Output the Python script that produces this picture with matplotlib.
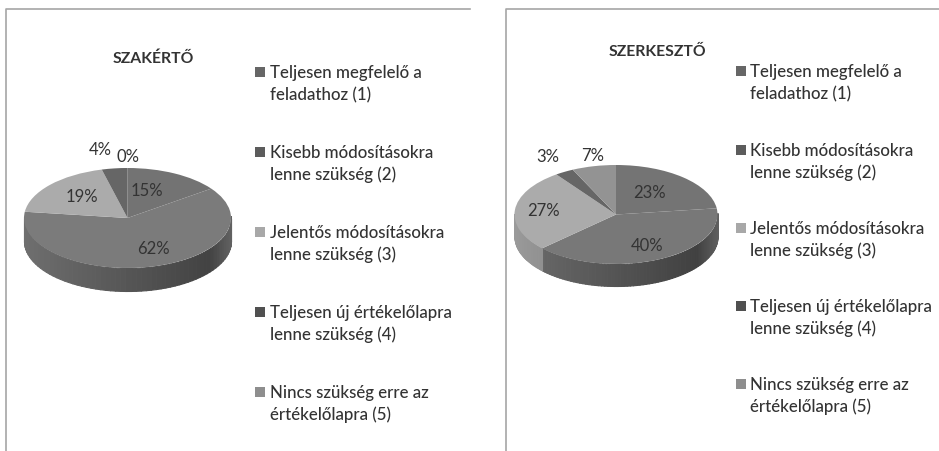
import numpy as np
import matplotlib
matplotlib.use("Agg")
import matplotlib.pyplot as plt
from matplotlib.transforms import Affine2D
from matplotlib.patches import Rectangle

plt.rcParams["font.family"] = ["Lato", "DejaVu Sans"]

W, H = 939, 452

legend_labels = [
    ["Teljesen megfelelő a", "feladathoz (1)"],
    ["Kisebb módosításokra", "lenne szükség (2)"],
    ["Jelentős módosításokra", "lenne szükség (3)"],
    ["Teljesen új értékelőlapra", "lenne szükség (4)"],
    ["Nincs szükség erre az", "értékelőlapra (5)"],
]
legend_colors = ["#666666", "#5c5c5c", "#a8a8a8", "#505050", "#8e8e8e"]

titles = ["SZAKÉRTŐ", "SZERKESZTŐ"]
szakerto = [15, 62, 19, 4, 0]
szerkeszto = [23, 40, 27, 3, 7]
top_colors_l = ["#737373", "#7b7b7b", "#ababab", "#666666", "#8e8e8e"]
top_colors_r = ["#747474", "#787878", "#ababab", "#666666", "#939393"]

# label centres in image pixels
label_pos_l = [(147, 191), (153, 249), (82, 197), (100, 150), (128, 157)]
label_pos_r = [(650, 193), (647, 246), (543, 211), (548, 157), (593, 156)]

TEXT = "#333333"


def py(y):
    return H - y


def draw_pie(ax, values, colors, cx, cy, rx, ry, depth, labels_at):
    # side of the disc first, so the top covers its edge
    cum = np.cumsum([0] + values) / 100.0
    for i, v in enumerate(values):
        if v == 0:
            continue
        a0 = np.pi / 2 - 2 * np.pi * cum[i]
        a1 = np.pi / 2 - 2 * np.pi * cum[i + 1]
        th = np.linspace(a0, a1, 80)
        base = matplotlib.colors.to_rgb(colors[i])[0]
        for t0, t1 in zip(th[:-1], th[1:]):
            if np.sin(t0) > 0 and np.sin(t1) > 0:
                continue
            xs = cx + rx * np.cos([t0, t1])
            ys = py(cy) + ry * np.sin([t0, t1])
            u = (np.cos(t0) + 1) / 2
            shade = 0.9 - 0.4 * u
            if u > 0.9:
                shade += (u - 0.9) * 3.0
            g = min(base * shade, 1)
            ax.fill_between(xs, ys - depth, ys, color=(g, g, g), lw=0.8,
                            antialiased=False)

    wedges, _ = ax.pie(values, colors=colors, startangle=90, counterclock=False,
                       radius=rx, center=(0, 0))
    tr = Affine2D().scale(1, ry / rx).translate(cx, py(cy)) + ax.transData
    for w in wedges:
        w.set_transform(tr)
        w.set_clip_on(False)
        w.set_zorder(3)

    for v, (x, y) in zip(values, labels_at):
        ax.text(x, py(y), f"{v}%", ha="center", va="center", fontsize=12,
                color=TEXT, zorder=4)


def draw_legend(ax, x_box, x_text, y_rows):
    for lines, c, y in zip(legend_labels, legend_colors, y_rows):
        ax.add_patch(Rectangle((x_box, py(y + 5)), 10, 10, fc=c, ec="none"))
        ax.text(x_text, py(y), lines[0], ha="left", va="center", fontsize=12.2,
                color=TEXT, fontweight="medium")
        ax.text(x_text, py(y + 22), lines[1], ha="left", va="center", fontsize=12.2,
                color=TEXT, fontweight="medium")


fig = plt.figure(figsize=(W / 100, H / 100), dpi=100)
ax = fig.add_axes([0, 0, 1, 1])

draw_pie(ax, szakerto, top_colors_l, 127.5, 219, 103.5, 50, 23, label_pos_l)
draw_pie(ax, szerkeszto, top_colors_r, 616, 215.5, 101.5, 49.5, 22, label_pos_r)

ax.set_xlim(0, W)
ax.set_ylim(0, H)
ax.set_aspect("auto")
ax.axis("off")

# panel frames: only top and left edges are visible
ax.plot([6, 6, 470], [0, py(10), py(10)], color="#a6a6a6", lw=1.2)
ax.plot([506, 506, 939], [0, py(10), py(10)], color="#a6a6a6", lw=1.2)

ax.text(153.5, py(59), titles[0], ha="center", va="center", fontsize=11.3,
        fontweight="bold", color=TEXT)
ax.text(657, py(52), titles[1], ha="center", va="center", fontsize=11.3,
        fontweight="bold", color=TEXT)

draw_legend(ax, 255, 270, [73, 153, 233, 313, 393])
draw_legend(ax, 736, 750, [72, 151, 229, 307, 385])

fig.savefig("out.png", dpi=100)
